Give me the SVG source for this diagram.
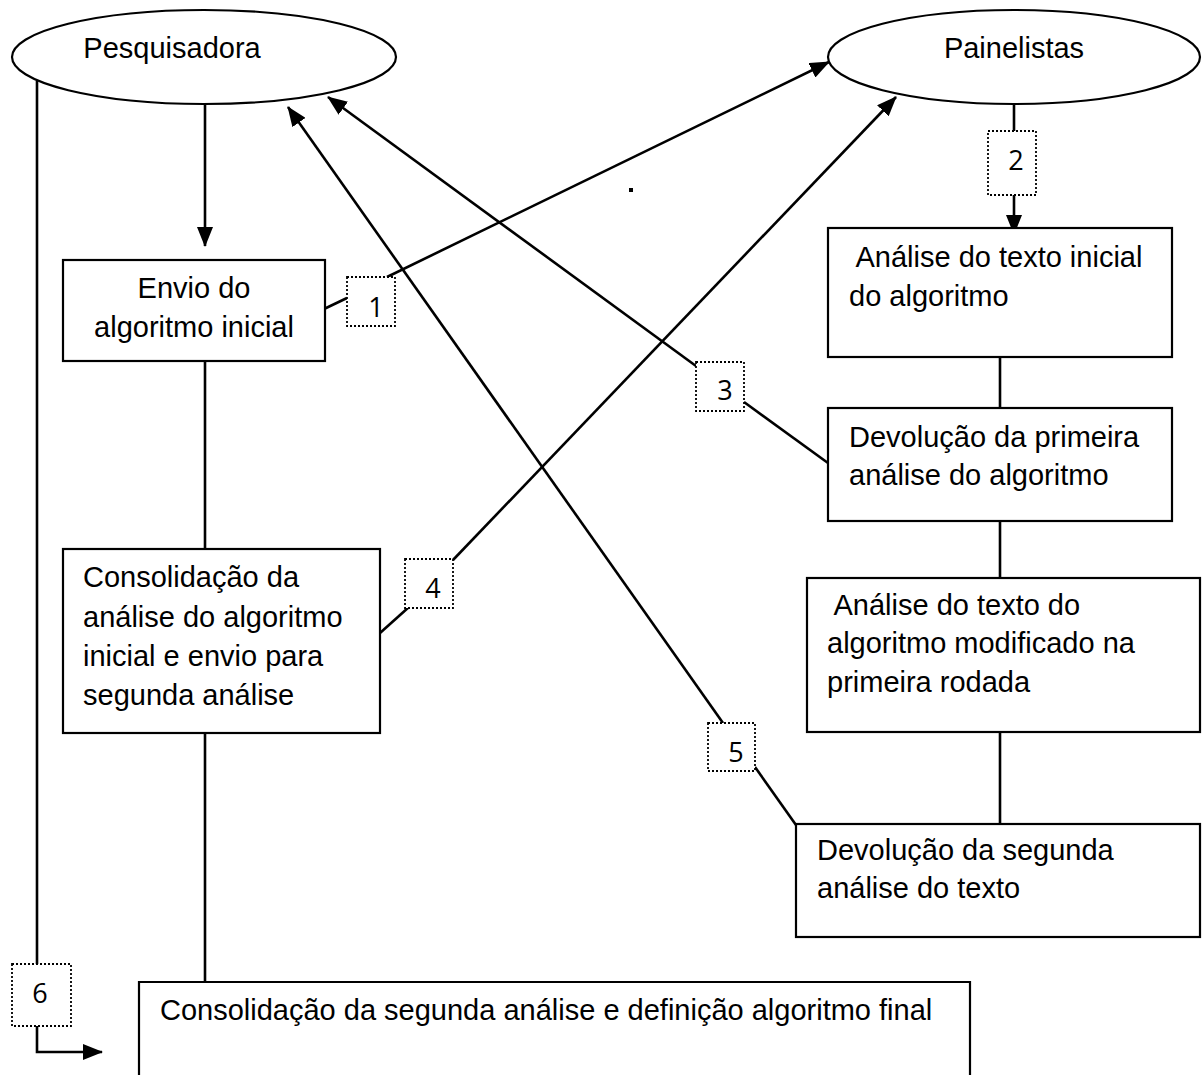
<svg xmlns="http://www.w3.org/2000/svg" width="1204" height="1075" viewBox="0 0 1204 1075">
<style>
.n{fill:#fff;stroke:#000;stroke-width:2.2}
.t{font-family:"Liberation Sans",Arial,sans-serif;font-size:29px;fill:#000}
.num{font-family:"Open Sans","Noto Sans",sans-serif;font-size:27px;fill:#000;text-anchor:middle}
.nb{fill:#fff;stroke:#000;stroke-width:1.8;stroke-dasharray:2 2}
.c{fill:none;stroke:#000;stroke-width:2.6}
.a{marker-end:url(#ah)}
</style>
<defs>
<marker id="ah" markerWidth="20" markerHeight="16" refX="19" refY="8" orient="auto" markerUnits="userSpaceOnUse"><path d="M0,0 L20,8 L0,16 z" fill="#000"/></marker>
</defs>
<rect width="1204" height="1075" fill="#fff"/>
<g id="connectors">
<line class="c a" x1="205" y1="104" x2="205" y2="246"/>
<line class="c" x1="205" y1="361" x2="205" y2="549"/>
<line class="c" x1="205" y1="733" x2="205" y2="982"/>
<line class="c" x1="37" y1="81" x2="37" y2="964"/>
<polyline class="c a" points="37,1026 37,1052 102,1052"/>
<line class="c" x1="324" y1="309" x2="347" y2="298"/>
<line class="c a" x1="387" y1="277" x2="829" y2="62"/>
<line class="c" x1="1014" y1="104" x2="1014" y2="131"/>
<line class="c a" x1="1014" y1="195" x2="1014" y2="234"/>
<line class="c" x1="828" y1="463" x2="744" y2="402"/>
<line class="c a" x1="696" y1="366" x2="328" y2="97"/>
<line class="c" x1="380" y1="633" x2="409" y2="607"/>
<line class="c a" x1="453" y1="560" x2="896" y2="97"/>
<line class="c" x1="796" y1="825" x2="755" y2="767"/>
<line class="c a" x1="723" y1="723" x2="288" y2="107"/>
<line class="c" x1="1000" y1="357" x2="1000" y2="408"/>
<line class="c" x1="1000" y1="521" x2="1000" y2="578"/>
<line class="c" x1="1000" y1="732" x2="1000" y2="824"/>
<rect x="629" y="188" width="4" height="4" fill="#000"/>
</g>
<g id="pesquisadora">
<ellipse class="n" cx="204" cy="57" rx="192" ry="47" stroke-width="1.8"/>
<text class="t" x="172" y="58" text-anchor="middle">Pesquisadora</text>
</g>
<g id="painelistas">
<ellipse class="n" cx="1014" cy="57" rx="186" ry="47" stroke-width="1.8"/>
<text class="t" x="1014" y="58" text-anchor="middle">Painelistas</text>
</g>
<g id="envio">
<rect class="n" x="63" y="260" width="262" height="101"/>
<text class="t" x="194" y="298" text-anchor="middle">Envio do</text>
<text class="t" x="194" y="337" text-anchor="middle">algoritmo inicial</text>
</g>
<g id="analise-inicial">
<rect class="n" x="828" y="228" width="344" height="129"/>
<text class="t" x="849" y="267" xml:space="preserve"> Análise do texto inicial</text>
<text class="t" x="849" y="306">do algoritmo</text>
</g>
<g id="devolucao-primeira">
<rect class="n" x="828" y="408" width="344" height="113"/>
<text class="t" x="849" y="447">Devolução da primeira</text>
<text class="t" x="849" y="485">análise do algoritmo</text>
</g>
<g id="consolidacao-analise">
<rect class="n" x="63" y="549" width="317" height="184"/>
<text class="t" x="83" y="587">Consolidação da</text>
<text class="t" x="83" y="627">análise do algoritmo</text>
<text class="t" x="83" y="666">inicial e envio para</text>
<text class="t" x="83" y="705">segunda análise</text>
</g>
<g id="analise-modificado">
<rect class="n" x="807" y="578" width="393" height="154"/>
<text class="t" x="827" y="615" xml:space="preserve"> Análise do texto do</text>
<text class="t" x="827" y="653">algoritmo modificado na</text>
<text class="t" x="827" y="692">primeira rodada</text>
</g>
<g id="devolucao-segunda">
<rect class="n" x="796" y="824" width="404" height="113"/>
<text class="t" x="817" y="860">Devolução da segunda</text>
<text class="t" x="817" y="898">análise do texto</text>
</g>
<g id="consolidacao-final">
<path class="n" d="M139,1080 L139,982 L970,982 L970,1080"/>
<text class="t" x="160" y="1020">Consolidação da segunda análise e definição algoritmo final</text>
</g>
<g id="label-1"><rect class="nb" x="347" y="277" width="48" height="49"/><text class="num" x="376" y="317">1</text></g>
<g id="label-2"><rect class="nb" x="988" y="131" width="48" height="64"/><text class="num" x="1016" y="170">2</text></g>
<g id="label-3"><rect class="nb" x="696" y="362" width="48" height="49"/><text class="num" x="725" y="400">3</text></g>
<g id="label-4"><rect class="nb" x="405" y="559" width="48" height="49"/><text class="num" x="433" y="598">4</text></g>
<g id="label-5"><rect class="nb" x="708" y="723" width="47" height="48"/><text class="num" x="736" y="762">5</text></g>
<g id="label-6"><rect class="nb" x="12" y="964" width="59" height="62"/><text class="num" x="40" y="1003">6</text></g>
</svg>
